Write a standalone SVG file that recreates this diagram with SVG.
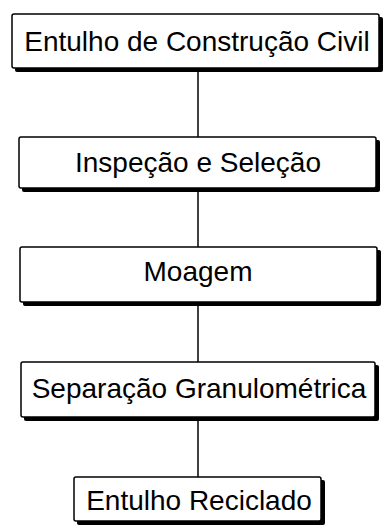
<svg xmlns="http://www.w3.org/2000/svg" width="383" height="532" viewBox="0 0 383 532">
<style>
.sh{fill:#000}
.bx{fill:#fff;stroke:#000;stroke-width:1.5}
.t{font-family:"Liberation Sans",Arial,sans-serif;font-size:28px;fill:#000;text-anchor:middle}
.c{stroke:#000;stroke-width:1.5;fill:none}
</style>
<rect width="383" height="532" fill="#fff"/>
<g id="connectors">
<line class="c" x1="198" y1="70" x2="198" y2="137"/>
<line class="c" x1="198" y1="190" x2="198" y2="247"/>
<line class="c" x1="198" y1="304" x2="198" y2="362"/>
<line class="c" x1="198" y1="419" x2="198" y2="477"/>
</g>
<g id="n1">
<rect class="sh" x="15" y="17" width="368" height="55" rx="2"/>
<rect class="bx" x="12" y="14" width="367" height="54" rx="2"/>
<text class="t" x="197" y="51">Entulho de Construção Civil</text>
</g>
<g id="n2">
<rect class="sh" x="22" y="140" width="358" height="52" rx="2"/>
<rect class="bx" x="19" y="137" width="357" height="51" rx="2"/>
<text class="t" x="198" y="172">Inspeção e Seleção</text>
</g>
<g id="n3">
<rect class="sh" x="23" y="250" width="358" height="56" rx="2"/>
<rect class="bx" x="20" y="247" width="357" height="55" rx="2"/>
<text class="t" x="198" y="281">Moagem</text>
</g>
<g id="n4">
<rect class="sh" x="24" y="365" width="355" height="56" rx="2"/>
<rect class="bx" x="21" y="362" width="354" height="55" rx="2"/>
<text class="t" x="199" y="398">Separação Granulométrica</text>
</g>
<g id="n5">
<rect class="sh" x="77" y="480" width="248" height="45" rx="2"/>
<rect class="bx" x="74" y="477" width="247" height="44" rx="2"/>
<text class="t" x="199" y="510">Entulho Reciclado</text>
</g>
</svg>
